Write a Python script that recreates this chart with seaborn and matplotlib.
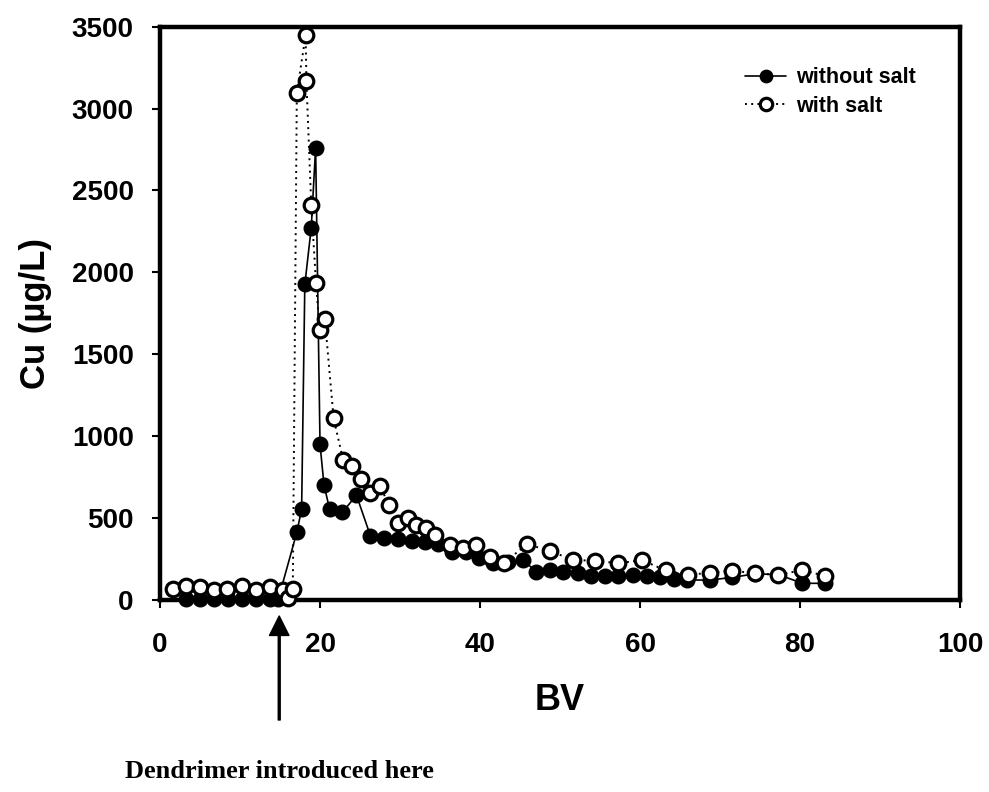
import matplotlib
matplotlib.use("Agg")
import matplotlib.pyplot as plt
import matplotlib.transforms as mtransforms
import seaborn as sns
import pandas as pd

# ---- data ----
bv_no_salt = [3.3, 5.0, 6.8, 8.5, 10.2, 12.0, 13.7, 14.8, 17.1, 17.7, 18.1, 18.9,
              19.45, 20.0, 20.5, 21.2, 22.8, 24.55, 26.3, 28.0, 29.7, 31.5, 33.1,
              34.8, 36.5, 38.3, 39.9, 41.6, 43.5, 45.4, 47.0, 48.7, 50.4, 52.2,
              53.9, 55.6, 57.3, 59.1, 60.9, 62.5, 64.2, 65.9, 68.8, 71.5, 74.4,
              77.3, 80.3, 83.1]
cu_no_salt = [8, 8, 8, 8, 8, 8, 8, 8, 413, 555, 1926, 2271,
              2759, 950, 701, 555, 535, 640, 392, 376, 370, 362, 356,
              342, 295, 295, 254, 228, 234, 244, 173, 183, 173, 163,
              147, 147, 147, 153, 147, 143, 126, 122, 122, 138, 160,
              155, 102, 102]

bv_salt = [1.6, 3.3, 5.0, 6.8, 8.4, 10.2, 12.0, 13.7, 15.4, 16.0, 16.6, 17.1,
           18.2, 18.3, 18.9, 19.5, 19.95, 20.6, 21.7, 22.9, 24.0, 25.1, 26.3,
           27.5, 28.6, 29.7, 31.0, 32.0, 33.2, 34.4, 36.2, 37.9, 39.5, 41.3,
           43.0, 45.9, 48.7, 51.6, 54.4, 57.3, 60.2, 63.2, 66.0, 68.8, 71.5,
           74.4, 77.3, 80.3, 83.1]
cu_salt = [69, 87, 77, 61, 65, 85, 61, 77, 61, 14, 69, 3095,
           3447, 3166, 2414, 1935, 1651, 1718, 1108, 852, 817, 736, 651,
           697, 580, 468, 498, 458, 437, 397, 336, 315, 336, 264,
           228, 340, 301, 244, 240, 224, 244, 181, 153, 167, 179,
           163, 153, 183, 147]

series_labels = ["without salt", "with salt"]
x_ticks = [0, 20, 40, 60, 80, 100]
y_ticks = [0, 500, 1000, 1500, 2000, 2500, 3000, 3500]
x_label = "BV"
y_label = "Cu (\u00b5g/L)"
note_text = "Dendrimer introduced here"
note_bv = 14.9

# ---- style ----
sns.set_theme(style="ticks")
plt.rcParams["font.family"] = ["Liberation Sans", "DejaVu Sans"]
plt.rcParams["font.weight"] = "bold"
for key in ["text.color", "axes.labelcolor", "xtick.color", "ytick.color",
            "axes.edgecolor"]:
    plt.rcParams[key] = "black"

fig = plt.figure(figsize=(9.89, 7.92), dpi=100)
ax = fig.add_axes([0.1618, 0.2424, 0.8089, 0.7240])

df_no = pd.DataFrame({"BV": bv_no_salt, "Cu": cu_no_salt})
df_salt = pd.DataFrame({"BV": bv_salt, "Cu": cu_salt})

sns.lineplot(data=df_no, x="BV", y="Cu", ax=ax, sort=False, estimator=None,
             color="black", linestyle="-", linewidth=1.2,
             marker="o", markersize=10.5, markerfacecolor="black",
             mec="black", mew=1.0, label=series_labels[0], zorder=3,
             clip_on=False)
sns.lineplot(data=df_salt, x="BV", y="Cu", ax=ax, sort=False, estimator=None,
             color="black", linestyle=(0, (1, 2.2)), linewidth=1.4,
             marker="o", markersize=10.5, markerfacecolor="white",
             mec="black", mew=2.3, label=series_labels[1], zorder=4,
             clip_on=False)

ax.set_xlim(0, 100)
ax.set_ylim(0, 3500)
ax.set_xticks(x_ticks)
ax.set_yticks(y_ticks)
ax.tick_params(axis="both", direction="out", length=6, width=1.5,
               labelsize=20, color="black", labelcolor="black")
ax.tick_params(axis="y", pad=13)
ax.tick_params(axis="x", pad=17)
for lab in ax.get_xticklabels() + ax.get_yticklabels():
    lab.set_fontweight("bold")
for sp in ax.spines.values():
    sp.set_visible(True)
    sp.set_linewidth(3.2)
    sp.set_color("black")
    sp.set_zorder(2)

ax.set_xlabel(x_label, fontsize=26, fontweight="bold", labelpad=18,
              color="black")
ax.set_ylabel(y_label, fontsize=25, fontweight="bold", labelpad=14,
              color="black")

handles, labels = ax.get_legend_handles_labels()
order = [labels.index(series_labels[0]), labels.index(series_labels[1])]
leg = ax.legend([handles[i] for i in order], [labels[i] for i in order],
                loc="upper left", bbox_to_anchor=(0.718, 0.948), frameon=False,
                prop={"weight": "bold", "size": 15.5}, handlelength=1.9,
                handletextpad=0.45, labelspacing=0.35, markerscale=0.85,
                borderpad=0, labelcolor="black")

# ---- annotation arrow and text below the axis ----
trans = mtransforms.blended_transform_factory(ax.transData, fig.transFigure)
ax.annotate("", xy=(note_bv, 1 - 616 / 792), xytext=(note_bv, 1 - 720 / 792),
            xycoords=trans, textcoords=trans, annotation_clip=False,
            arrowprops=dict(facecolor="black", edgecolor="black", width=1.4,
                            headwidth=14, headlength=14, shrink=0))
ax.text(note_bv, 1 - 772 / 792, note_text, transform=trans, ha="center",
        va="center", fontsize=19, fontweight="bold", color="black",
        family=["Liberation Serif", "DejaVu Serif"], clip_on=False)

fig.savefig("out.png", dpi=100)
